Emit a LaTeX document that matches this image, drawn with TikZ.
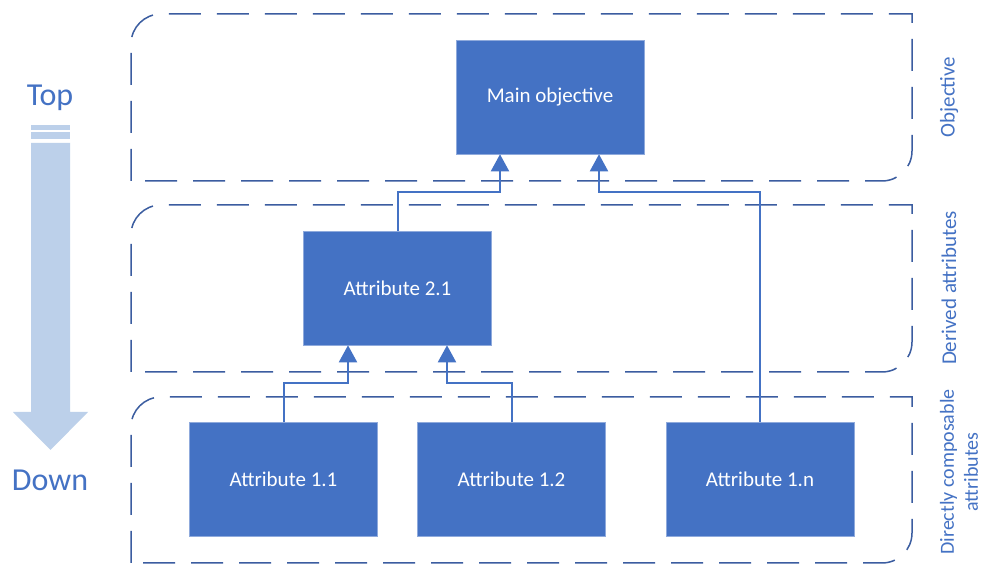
\documentclass[tikz,border=0pt]{standalone}
\usepackage{fontspec}
\setmainfont{Carlito}
\usetikzlibrary{arrows.meta}
\definecolor{boxblue}{HTML}{4472C4}
\definecolor{grpblue}{HTML}{3B5DA0}
\definecolor{lightarrow}{HTML}{BCD0EA}
\tikzset{
  blk/.style={rectangle, fill=boxblue, draw=boxblue!60!white, line width=0.6pt, minimum width=188pt, minimum height=114pt, inner sep=0pt, text=white, font=\fontsize{21}{24}\selectfont},
  grp/.style={draw=grpblue, line width=1.5pt, dash pattern=on 32pt off 16pt},
  conn/.style={draw=boxblue, line width=2pt, -{Triangle[width=18pt,length=17pt]}},
  sidelbl/.style={text=boxblue, rotate=90, font=\fontsize{21}{25}\selectfont, align=center, inner sep=0pt},
  bigtxt/.style={text=boxblue, font=\fontsize{32}{36}\selectfont, inner sep=0pt}
}
\begin{document}
\begin{tikzpicture}[x=1pt,y=1pt]
\useasboundingbox (0,0) rectangle (983,564);
\fill[white] (0,0) rectangle (983,564);
% group boxes
\draw[grp] (131,383) -- (131,520) arc[start angle=180,end angle=90,radius=30] -- (912,550) -- (912,413) arc[start angle=0,end angle=-90,radius=30] -- cycle;
\draw[grp] (131,192) -- (131,329) arc[start angle=180,end angle=90,radius=30] -- (912,359) -- (912,222) arc[start angle=0,end angle=-90,radius=30] -- cycle;
\draw[grp] (131,1) -- (131,137) arc[start angle=180,end angle=90,radius=30] -- (912,167) -- (912,31) arc[start angle=0,end angle=-90,radius=30] -- cycle;
% nodes
\node[blk] (main) at (550,467) {Main objective};
\node[blk] (a21) at (397.5,276) {Attribute 2.1};
\node[blk] (a11) at (283.5,84.5) {Attribute 1.1};
\node[blk] (a12) at (511.5,84.5) {Attribute 1.2};
\node[blk] (a1n) at (760,84.5) {Attribute 1.n};
% connectors
\draw[conn] (a21.north) -- ++(0,39) -| ([xshift=-50pt]main.south);
\draw[conn] (a1n.north) -- ++(0,230) -| ([xshift=49pt]main.south);
\draw[conn] (a11.north) -- ++(0,39) -| ([xshift=-49.5pt]a21.south);
\draw[conn] (a12.north) -- ++(0,39) -| ([xshift=49.5pt]a21.south);
% left arrow
\fill[lightarrow] (31,439) rectangle (70,434);
\fill[lightarrow] (31,432) rectangle (70,425);
\fill[lightarrow] (31,421) -- (70,421) -- (70,152) -- (88,152) -- (50.5,114) -- (13,152) -- (31,152) -- cycle;
\node[bigtxt] (top) at (50,466) {Top};
\node[bigtxt] (down) at (50,84) {Down};
% side labels
\node[sidelbl] (l1) at (949,467) {Objective};
\node[sidelbl] (l2) at (949,276) {Derived attributes};
\node[sidelbl, font=\fontsize{20}{24}\selectfont] (l3) at (959,92) {Directly composable\\attributes};
\end{tikzpicture}
\end{document}
